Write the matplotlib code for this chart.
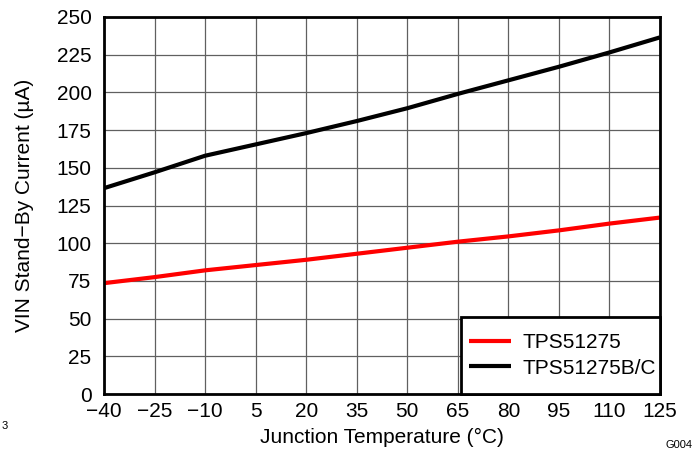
import matplotlib
matplotlib.use("Agg")
import matplotlib.pyplot as plt
from matplotlib.patches import Rectangle

temps = [-40, -25, -10, 5, 20, 35, 50, 65, 80, 95, 110, 125]
tps51275 = [73.5, 77.5, 82, 85.5, 89, 93, 97, 101, 104.5, 108.5, 113, 117]
tps51275bc = [136.5, 147, 158, 165.5, 173, 181, 189.5, 199, 208, 217, 226.5, 236.5]
xticks = [-40, -25, -10, 5, 20, 35, 50, 65, 80, 95, 110, 125]
yticks = [0, 25, 50, 75, 100, 125, 150, 175, 200, 225, 250]

plt.rcParams['font.family'] = ['Liberation Sans', 'DejaVu Sans']
plt.rcParams['axes.unicode_minus'] = True

fig = plt.figure(figsize=(7, 4.51), dpi=100)
ax = fig.add_axes([104/700, 57/451, 556/700, 377/451])

ax.plot(temps, tps51275, color='#ff0000', lw=3, label='TPS51275', solid_capstyle='butt')
ax.plot(temps, tps51275bc, color='black', lw=3, label='TPS51275B/C', solid_capstyle='butt')

ax.set_xlim(-40, 125)
ax.set_ylim(0, 250)
ax.set_xticks(xticks)
ax.set_xticklabels([str(t).replace('-', '\u2212') for t in xticks])
ax.set_yticks(yticks)
ax.grid(True, color='#606060', lw=0.9)
ax.set_axisbelow(True)
ax.tick_params(length=0, labelsize=15)
ax.tick_params(axis='x', pad=6)
ax.tick_params(axis='y', pad=9)
for s in ax.spines.values():
    s.set_linewidth(2)
    s.set_color('black')

ax.set_xlabel('Junction Temperature (°C)', fontsize=15, labelpad=5)
ax.set_ylabel('VIN Stand\u2212By Current (µA)', fontsize=15, labelpad=16)

# legend frame box
lx0, lw_, lh = 0.642, 0.358, 0.204
ax.add_patch(Rectangle((lx0, 0), lw_, lh, transform=ax.transAxes, facecolor='white',
                       edgecolor='black', lw=2, zorder=5, clip_on=False))
leg = ax.legend(loc='center', bbox_to_anchor=(lx0 + 0.004, 0, lw_, lh), fontsize=15,
                frameon=False, handlelength=2.0, handletextpad=0.55,
                borderpad=0.0, labelspacing=0.3)
leg.set_zorder(6)

fig.text(2/700, 1 - 426/451, '3', fontsize=8, va='center', ha='left')
fig.text(692/700, 1 - 445/451, 'G004', fontsize=8, va='center', ha='right')

fig.savefig('out.png', dpi=100)
